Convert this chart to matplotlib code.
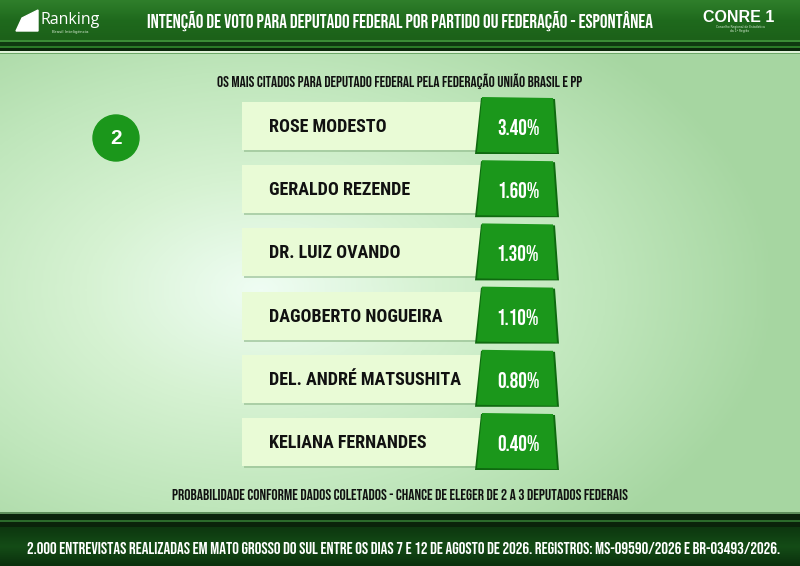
import matplotlib
matplotlib.use("Agg")
import numpy as np
import matplotlib.pyplot as plt
from matplotlib.patches import Rectangle, Polygon, Circle
from matplotlib.colors import LinearSegmentedColormap

# ---------------- data ----------------
title = "INTENÇÃO DE VOTO PARA DEPUTADO FEDERAL POR PARTIDO OU FEDERAÇÃO - ESPONTÂNEA"
subtitle = "OS MAIS CITADOS PARA DEPUTADO FEDERAL PELA FEDERAÇÃO UNIÃO BRASIL E PP"
note = "PROBABILIDADE CONFORME DADOS COLETADOS - CHANCE DE ELEGER DE 2 A 3 DEPUTADOS FEDERAIS"
footer = ("2.000 ENTREVISTAS REALIZADAS EM MATO GROSSO DO SUL ENTRE OS DIAS 7 E 12 DE AGOSTO DE 2026. "
          "REGISTROS: MS-09590/2026 E BR-03493/2026.")
badge = "2"
candidates = ["ROSE MODESTO", "GERALDO REZENDE", "DR. LUIZ OVANDO",
              "DAGOBERTO NOGUEIRA", "DEL. ANDRÉ MATSUSHITA", "KELIANA FERNANDES"]
values = [3.40, 1.60, 1.30, 1.10, 0.80, 0.40]
value_labels = [f"{v:.2f}%" for v in values]

# ---------------- style ----------------
COND = "Bebas Neue"
NAME = "Roboto Condensed"
GREEN = "#1b971b"
PALE = "#e9fbd6"

fig = plt.figure(figsize=(8, 5.66), dpi=100)
ax = fig.add_axes([0, 0, 1, 1])
ax.set_xlim(0, 800)
ax.set_ylim(566, 0)
ax.axis("off")

# background: soft radial glow
yy, xx = np.mgrid[0:566:283j, 0:800:400j]
d = np.sqrt(((xx - 260) / 520) ** 2 + ((yy - 290) / 330) ** 2)
g = np.clip(d, 0, 1)
bg_cmap = LinearSegmentedColormap.from_list("bg", ["#effdf3", "#d6f2d2", "#bfe6bb", "#a6d6a1"])
ax.imshow(g, cmap=bg_cmap, extent=(0, 800, 566, 0), aspect="auto", zorder=0, interpolation="bilinear")

# header bands
hdr = np.linspace(0, 1, 50).reshape(-1, 1)
hdr_cmap = LinearSegmentedColormap.from_list("hdr", ["#2f7f2b", "#1f6a1d", "#1c6119"])
ax.imshow(hdr, cmap=hdr_cmap, extent=(0, 800, 40, 0), aspect="auto", zorder=1)
for y0, h, c in [(40, 2, "#3b8c36"), (42, 4, "#0f3a10"), (46, 2, "#2a7a27"),
                 (48, 3, "#0a260a"), (51, 1.5, "#dff2d8"), (52.5, 1.5, "#6da868")]:
    ax.add_patch(Rectangle((0, y0), 800, h, color=c, lw=0, zorder=1))

# footer bands
for y0, h, c in [(512, 2, "#5f8f5c"), (514, 6, "#0a230b"), (520, 2, "#2b6a2b"),
                 (522, 5, "#0a220a")]:
    ax.add_patch(Rectangle((0, y0), 800, h, color=c, lw=0, zorder=1))
ftr = np.linspace(0, 1, 50).reshape(-1, 1)
ftr_cmap = LinearSegmentedColormap.from_list("ftr", ["#0d370f", "#144c16", "#0b300d"])
ax.imshow(ftr, cmap=ftr_cmap, extent=(0, 800, 566, 527), aspect="auto", zorder=1)

# header texts
ax.text(400, 21, title, color="white", fontsize=13.8, family=COND, ha="center", va="center", zorder=3)
ax.text(41, 20, "Ranking", color="white", fontsize=11.5, family="Open Sans", ha="left", va="center", zorder=3)
ax.text(70, 32, "Brasil Inteligência", color="#cfe6cc", fontsize=3, family="DejaVu Sans", ha="center", va="center", zorder=3)
ax.add_patch(Polygon([(16, 31), (22, 18), (38, 10), (38, 31)], closed=True, color="white", zorder=3))
ax.text(739, 17, "CONRE 1", color="white", fontsize=11.5, family="Liberation Sans", weight="bold",
        ha="center", va="center", zorder=3)
ax.text(740, 29, "Conselho Regional de Estatística\nda 1ª Região", color="#d8ecd6", fontsize=2.2,
        family="DejaVu Sans", ha="center", va="center", zorder=3, linespacing=1.0)

ax.text(400, 81, subtitle, color="#111111", fontsize=11.0, family=COND, ha="center", va="center", zorder=3)
ax.text(400, 494, note, color="#111111", fontsize=11.2, family=COND, ha="center", va="center", zorder=3)
ax.text(403.5, 548, footer, color="white", fontsize=12.05, family=COND, ha="center", va="center", zorder=3)

# badge
ax.add_patch(Circle((116, 138), 23, color=GREEN, zorder=3))
ax.text(116, 139, badge, color="white", fontsize=15, family="Liberation Sans", weight="bold",
        ha="center", va="center", zorder=4)

# rows
for i, (name, lab) in enumerate(zip(candidates, value_labels)):
    yc = 126 + i * 63.2
    ax.add_patch(Rectangle((244, yc - 23), 240, 49, color="#8fb98a", alpha=0.6, lw=0, zorder=2))
    ax.add_patch(Rectangle((242, yc - 24), 240, 48, color=PALE, lw=0, zorder=3))
    ax.add_patch(Polygon([(475, yc + 28), (481, yc - 28), (555, yc - 27), (559, yc + 28)],
                         closed=True, color="#0f6a10", lw=0, zorder=3))
    ax.add_patch(Polygon([(477, yc + 26), (482, yc - 29), (553, yc - 28), (557, yc + 27)],
                         closed=True, color=GREEN, lw=0, zorder=4))
    ax.text(269, yc + 1, name, color="#111111", fontsize=13, family=NAME, weight="bold",
            ha="left", va="center", zorder=5)
    ax.text(518, yc + 1, lab, color="white", fontsize=15.5, family=COND,
            ha="center", va="center", zorder=5)

fig.savefig("out.png", dpi=100)
